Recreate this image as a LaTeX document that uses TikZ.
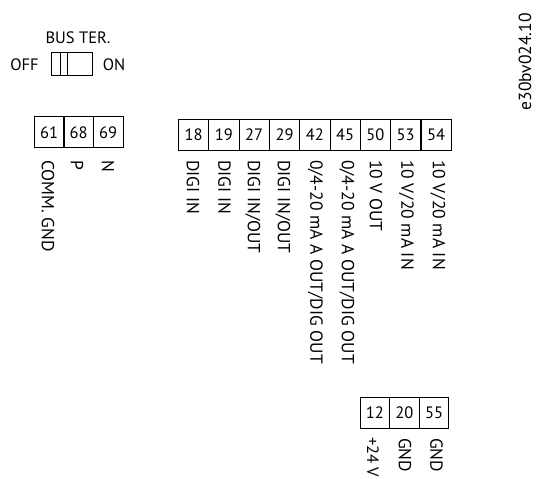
\documentclass[tikz,border=0pt]{standalone}
\usepackage{fontspec}
\setmainfont{PT Sans}
\begin{document}
\begin{tikzpicture}[x=1pt,y=-1pt,
cell/.style={rectangle, draw, line width=0.8pt, inner sep=0pt, minimum width=30.2pt, minimum height=31pt, font=\fontsize{16.5}{18}\selectfont},
sig/.style={rotate=-90, anchor=west, inner sep=0pt, font=\fontsize{17.5}{19}\selectfont},
txt/.style={inner sep=0pt, font=\fontsize{16.5}{19}\selectfont}]
\useasboundingbox (0,0) rectangle (536,479);

\draw (78,38) node[txt] (BT) {BUS TER.};
\draw (24.5,65) node[txt] (OFF) {OFF};
\draw (114,65) node[txt] (ON) {ON};
\draw (71.5,64.2) node[rectangle, draw, line width=0.8pt, inner sep=0pt, minimum width=41pt, minimum height=23pt] (SW) {};
\draw (63.7,64.2) node[rectangle, draw, line width=0.8pt, inner sep=0pt, minimum width=6.5pt, minimum height=23pt] (LV) {};

\draw (49,132.3) node[cell] (T61) {61};
\draw (78.5,132.3) node[cell] (T68) {68};
\draw (108,132.3) node[cell] (T69) {69};
\draw (48,160) node[sig] (L61) {COMM. GND};
\draw (77,160) node[sig] (L68) {P};
\draw (108,160) node[sig] (L69) {N};

\draw (193.6,135) node[cell] (T18) {18};
\draw (223.9,135) node[cell] (T19) {19};
\draw (254.2,135) node[cell] (T27) {27};
\draw (284.5,135) node[cell] (T29) {29};
\draw (314.8,135) node[cell] (T42) {42};
\draw (345.1,135) node[cell] (T45) {45};
\draw (375.4,135) node[cell] (T50) {50};
\draw (405.7,135) node[cell] (T53) {53};
\draw (436,135) node[cell] (T54) {54};
\draw (193,160) node[sig] (L18) {DIGI IN};
\draw (224.5,160) node[sig] (L19) {DIGI IN};
\draw (253,160) node[sig] (L27) {DIGI IN/OUT};
\draw (283,160) node[sig] (L29) {DIGI IN/OUT};
\draw (315.5,160) node[sig] (L42) {0/4-20 mA A OUT/DIG OUT};
\draw (347,160) node[sig] (L45) {0/4-20 mA A OUT/DIG OUT};
\draw (376,160) node[sig] (L50) {10 V OUT};
\draw (406.5,160) node[sig] (L53) {10 V/20 mA IN};
\draw (438,160) node[sig] (L54) {10 V/20 mA IN};

\draw (374.8,413) node[cell, minimum width=29.6pt] (T12) {12};
\draw (404.4,413) node[cell, minimum width=29.6pt] (T20) {20};
\draw (434,413) node[cell, minimum width=29.6pt] (T55) {55};
\draw (373,437) node[sig, font=\fontsize{16.5}{18}\selectfont] (L12) {+24 V};
\draw (405,438) node[sig] (L20) {GND};
\draw (436.5,438) node[sig] (L55) {GND};

\draw (525,13) node[rotate=90, anchor=east, inner sep=0pt, font=\fontsize{17.5}{19}\selectfont] (REF) {e30bv024.10};
\end{tikzpicture}
\end{document}
